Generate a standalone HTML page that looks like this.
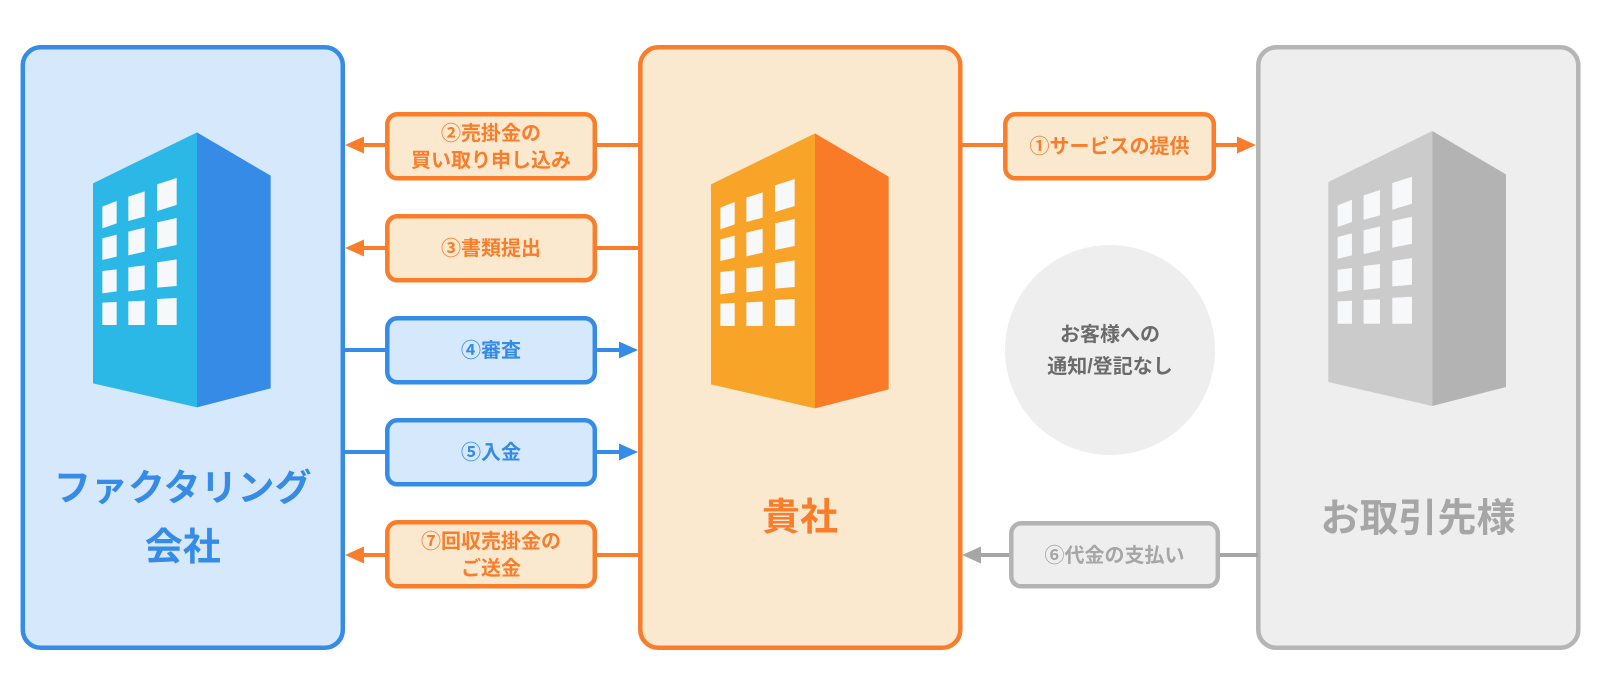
<!DOCTYPE html>
<html><head><meta charset="utf-8"><style>
html,body{margin:0;padding:0;background:#fff;}
svg{display:block;}
text{font-family:"Liberation Sans","Noto Sans CJK JP",sans-serif;font-weight:bold;}
</style></head><body>
<svg width="1600" height="700" viewBox="0 0 1600 700" xmlns="http://www.w3.org/2000/svg">
<!-- Main boxes -->
<rect x="22.8" y="47.3" width="320" height="600.5" rx="18" fill="#d6e9fc" stroke="#358be6" stroke-width="4.5"/>
<rect x="640.3" y="47.3" width="320" height="600.5" rx="18" fill="#fbe9cf" stroke="#f97d2a" stroke-width="4.5"/>
<rect x="1258.3" y="47.3" width="320" height="600.5" rx="18" fill="#eeeeee" stroke="#b5b5b5" stroke-width="4.5"/>

<!-- Left building -->
<g transform="translate(0,30) scale(0.33333)">
<polygon points="279,460 591,307 591,1132 279,1060" fill="#2cb8e6"/>
<polygon points="591,307 812,437 812,1075 591,1132" fill="#358be5"/>
<g fill="#f7f8fa">
<polygon points="307,530 350,513 350,580 307,595"/><polygon points="385,500 434,484 434,560 385,573"/><polygon points="471,463 530,444 530,525 471,543"/>
<polygon points="307,625 350,614 350,680 307,690"/><polygon points="385,605 434,593 434,665 385,676"/><polygon points="471,577 530,564 530,645 471,657"/>
<polygon points="307,723 350,718 350,784 307,790"/><polygon points="385,712 434,706 434,778 385,784"/><polygon points="471,697 530,688 530,768 471,773"/>
<polygon points="307,818 350,816 350,885 307,885"/><polygon points="385,814 434,812 434,885 385,885"/><polygon points="471,807 530,804 530,885 471,885"/>
</g></g>

<!-- Center building -->
<g transform="translate(618,31) scale(0.33333)">
<polygon points="279,460 591,307 591,1132 279,1060" fill="#f8a428"/>
<polygon points="591,307 812,437 812,1075 591,1132" fill="#f97b27"/>
<g fill="#f7f8fa">
<polygon points="307,530 350,513 350,580 307,595"/><polygon points="385,500 434,484 434,560 385,573"/><polygon points="471,463 530,444 530,525 471,543"/>
<polygon points="307,625 350,614 350,680 307,690"/><polygon points="385,605 434,593 434,665 385,676"/><polygon points="471,577 530,564 530,645 471,657"/>
<polygon points="307,723 350,718 350,784 307,790"/><polygon points="385,712 434,706 434,778 385,784"/><polygon points="471,697 530,688 530,768 471,773"/>
<polygon points="307,818 350,816 350,885 307,885"/><polygon points="385,814 434,812 434,885 385,885"/><polygon points="471,807 530,804 530,885 471,885"/>
</g></g>

<!-- Right building -->
<g transform="translate(1235.3,28.7) scale(0.33333)">
<polygon points="279,460 591,307 591,1132 279,1060" fill="#cbcbcb"/>
<polygon points="591,307 812,437 812,1075 591,1132" fill="#b3b3b3"/>
<g fill="#f7f8fa">
<polygon points="307,530 350,513 350,580 307,595"/><polygon points="385,500 434,484 434,560 385,573"/><polygon points="471,463 530,444 530,525 471,543"/>
<polygon points="307,625 350,614 350,680 307,690"/><polygon points="385,605 434,593 434,665 385,676"/><polygon points="471,577 530,564 530,645 471,657"/>
<polygon points="307,723 350,718 350,784 307,790"/><polygon points="385,712 434,706 434,778 385,784"/><polygon points="471,697 530,688 530,768 471,773"/>
<polygon points="307,818 350,816 350,885 307,885"/><polygon points="385,814 434,812 434,885 385,885"/><polygon points="471,807 530,804 530,885 471,885"/>
</g></g>

<!-- Main labels -->
<text x="182.7" y="488" font-size="37" fill="#358be6" text-anchor="middle" dominant-baseline="central">ファクタリング</text>
<text x="182.7" y="548" font-size="38" fill="#358be6" text-anchor="middle" dominant-baseline="central">会社</text>
<text x="800" y="518" font-size="38" fill="#f97d2a" text-anchor="middle" dominant-baseline="central">貴社</text>
<text x="1418" y="519" font-size="39" fill="#a6a6a6" text-anchor="middle" dominant-baseline="central">お取引先様</text>

<!-- Connectors -->
<g stroke-width="4">
<line x1="360" y1="145" x2="640" y2="145" stroke="#f97d2a"/>
<line x1="360" y1="248" x2="640" y2="248" stroke="#f97d2a"/>
<line x1="345" y1="350" x2="622" y2="350" stroke="#358be6"/>
<line x1="345" y1="452" x2="622" y2="452" stroke="#358be6"/>
<line x1="360" y1="555" x2="640" y2="555" stroke="#f97d2a"/>
<line x1="960" y1="145" x2="1240" y2="145" stroke="#f97d2a"/>
<line x1="978" y1="555" x2="1258" y2="555" stroke="#a6a6a6"/>
</g>
<!-- Arrowheads -->
<polygon points="345,145 364,136.5 364,153.5" fill="#f97d2a"/>
<polygon points="345,248 364,239.5 364,256.5" fill="#f97d2a"/>
<polygon points="345,555 364,546.5 364,563.5" fill="#f97d2a"/>
<polygon points="638,350 619,341.5 619,358.5" fill="#358be6"/>
<polygon points="638,452 619,443.5 619,460.5" fill="#358be6"/>
<polygon points="1256,145 1237,136.5 1237,153.5" fill="#f97d2a"/>
<polygon points="962,555 981,546.5 981,563.5" fill="#a6a6a6"/>

<!-- Label boxes -->
<rect x="387.3" y="114.3" width="207.5" height="64" rx="10" fill="#fbe9cf" stroke="#f97d2a" stroke-width="4.5"/>
<text x="491" y="134" font-size="20" fill="#f97d2a" text-anchor="middle" dominant-baseline="central">②売掛金の</text>
<text x="491" y="161" font-size="20" fill="#f97d2a" text-anchor="middle" dominant-baseline="central">買い取り申し込み</text>

<rect x="387.3" y="216.3" width="207.5" height="64" rx="10" fill="#fbe9cf" stroke="#f97d2a" stroke-width="4.5"/>
<text x="491" y="249" font-size="20" fill="#f97d2a" text-anchor="middle" dominant-baseline="central">③書類提出</text>

<rect x="387.3" y="318.3" width="207.5" height="64" rx="10" fill="#d6e9fc" stroke="#358be6" stroke-width="4.5"/>
<text x="491" y="351" font-size="20" fill="#358be6" text-anchor="middle" dominant-baseline="central">④審査</text>

<rect x="387.3" y="420.3" width="207.5" height="64" rx="10" fill="#d6e9fc" stroke="#358be6" stroke-width="4.5"/>
<text x="491" y="453" font-size="20" fill="#358be6" text-anchor="middle" dominant-baseline="central">⑤入金</text>

<rect x="387.3" y="522.3" width="207.5" height="64" rx="10" fill="#fbe9cf" stroke="#f97d2a" stroke-width="4.5"/>
<text x="491" y="542" font-size="20" fill="#f97d2a" text-anchor="middle" dominant-baseline="central">⑦回収売掛金の</text>
<text x="491" y="569" font-size="20" fill="#f97d2a" text-anchor="middle" dominant-baseline="central">ご送金</text>

<rect x="1005.3" y="114.3" width="208.5" height="64" rx="10" fill="#fbe9cf" stroke="#f97d2a" stroke-width="4.5"/>
<text x="1109.5" y="147" font-size="20" fill="#f97d2a" text-anchor="middle" dominant-baseline="central">①サービスの提供</text>

<rect x="1011.3" y="523.3" width="206.5" height="63" rx="10" fill="#eeeeee" stroke="#b3b3b3" stroke-width="4.5"/>
<text x="1114.5" y="556" font-size="20" fill="#a6a6a6" text-anchor="middle" dominant-baseline="central">⑥代金の支払い</text>

<!-- Circle -->
<circle cx="1110" cy="350" r="105" fill="#eeeeee"/>
<text x="1110" y="335" font-size="20" fill="#6b6b6b" text-anchor="middle" dominant-baseline="central">お客様への</text>
<text x="1110" y="367" font-size="20" fill="#6b6b6b" text-anchor="middle" dominant-baseline="central">通知/登記なし</text>
</svg>
</body></html>
